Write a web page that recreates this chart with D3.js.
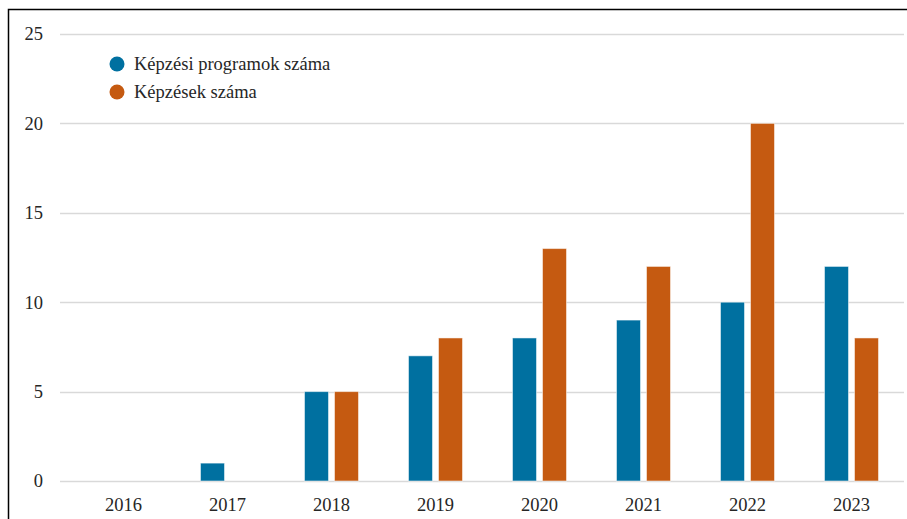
<!DOCTYPE html>
<html>
<head>
<meta charset="utf-8">
<script src="https://cdn.jsdelivr.net/npm/d3@7"></script>
<style>
  body { margin: 0; background: #fff; }
</style>
</head>
<body>
<div id="chart"></div>
<script>
"use strict";

var years = ["2016", "2017", "2018", "2019", "2020", "2021", "2022", "2023"];
var programok = [0, 1, 5, 7, 8, 9, 10, 12];
var kepzesek = [0, 0, 5, 8, 13, 12, 20, 8];
var seriesNames = ["Képzési programok száma", "Képzések száma"];
var seriesColors = ["#0070a0", "#c55a11"];
var yTicks = [0, 5, 10, 15, 20, 25];

var W = 907, H = 519;
var FONT = "'Liberation Serif', serif";
var FS = 18.5;

var svg = d3.select("#chart").append("svg")
    .attr("width", W)
    .attr("height", H)
    .style("font-family", FONT);

// frame
svg.append("rect")
    .attr("x", 8.5).attr("y", 9.5)
    .attr("width", W + 10).attr("height", H + 10)
    .attr("fill", "none")
    .attr("stroke", "#000")
    .attr("stroke-width", 1.5);

var x = d3.scaleBand().domain(years).range([71.5, 903.5]);
var y = d3.scaleLinear().domain([0, 25]).range([481, 34]);

// grid
svg.selectAll("line.grid").data(yTicks).enter()
    .append("line")
        .attr("class", "grid")
        .attr("x1", 60).attr("x2", 904)
        .attr("y1", function(d){ return Math.round(y(d)) + 0.5; })
        .attr("y2", function(d){ return Math.round(y(d)) + 0.5; })
        .attr("stroke", "#d9d9d9")
        .attr("stroke-width", 1.5);

// y labels
svg.selectAll("text.ylab").data(yTicks).enter()
    .append("text")
        .attr("class", "ylab")
        .attr("x", 43)
        .attr("y", function(d){ return y(d); })
        .attr("dy", "0.35em")
        .attr("text-anchor", "end")
        .attr("font-size", FS)
        .attr("fill", "#262626")
        .text(function(d){ return d; });

// x labels
svg.selectAll("text.xlab").data(years).enter()
    .append("text")
        .attr("class", "xlab")
        .attr("x", function(d){ return x(d) + x.bandwidth() / 2; })
        .attr("y", 511)
        .attr("text-anchor", "middle")
        .attr("font-size", FS)
        .attr("fill", "#262626")
        .text(function(d){ return d; });

var barW = 24, gap = 6;
var series = [programok, kepzesek];

series.forEach(function(vals, si){
    svg.selectAll("rect.s" + si).data(vals).enter()
        .append("rect")
            .attr("class", "s" + si)
            .attr("x", function(d, i){
                var c = x(years[i]) + x.bandwidth() / 2;
                return si === 0 ? c - gap / 2 - barW : c + gap / 2;
            })
            .attr("y", function(d){ return y(d); })
            .attr("width", barW)
            .attr("height", function(d){ return y(0) - y(d); })
            .attr("fill", seriesColors[si])
            .attr("stroke", "#fff")
            .attr("stroke-opacity", 0.5)
            .attr("stroke-width", 1);
});

// legend
var legend = svg.selectAll("g.legend").data(seriesNames).enter()
    .append("g")
        .attr("class", "legend")
        .attr("transform", function(d, i){ return "translate(117," + (64 + i * 28) + ")"; });

legend.append("circle")
    .attr("r", 7.5)
    .attr("fill", function(d, i){ return seriesColors[i]; });

legend.append("text")
    .attr("x", 17)
    .attr("dy", "0.35em")
    .attr("font-size", FS)
    .attr("fill", "#262626")
    .text(function(d){ return d; });
</script>
</body>
</html>
